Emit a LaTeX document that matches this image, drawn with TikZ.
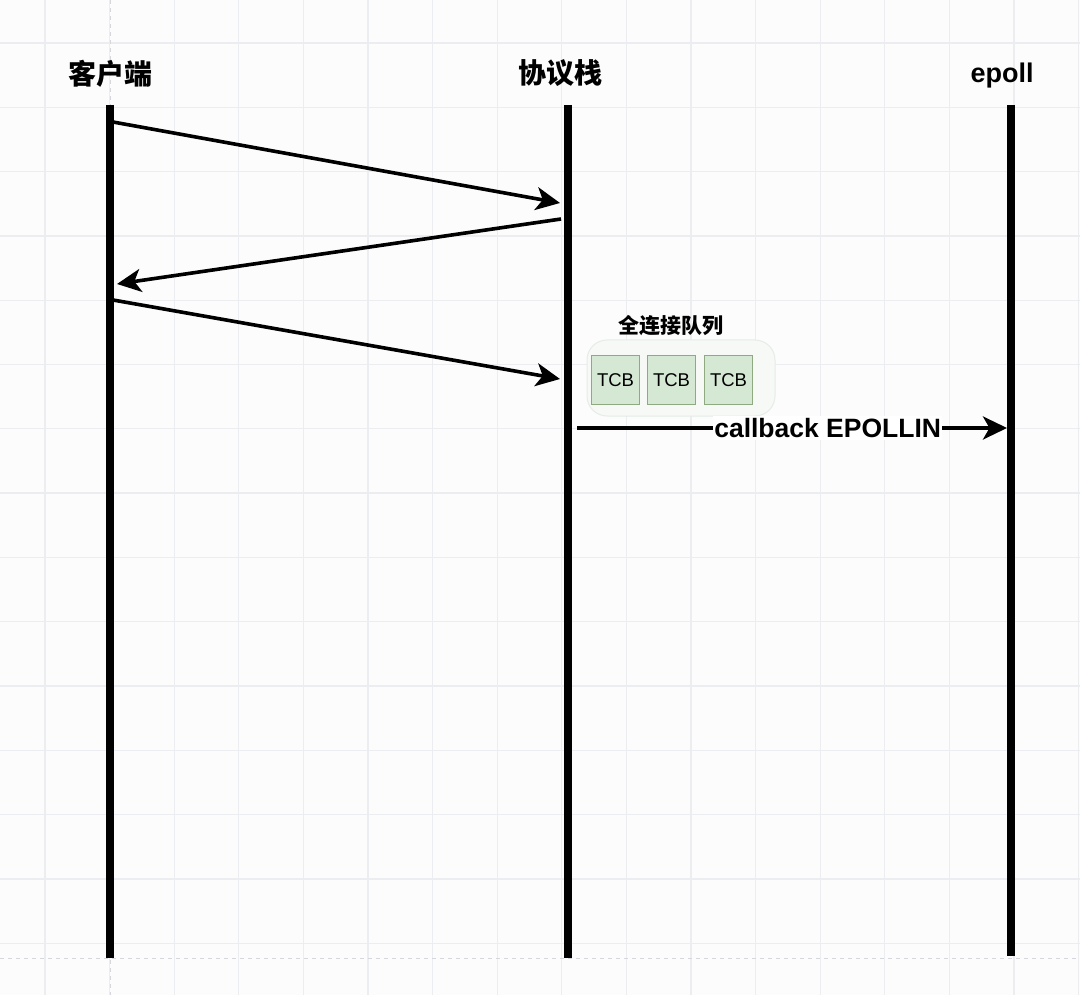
\documentclass[tikz,border=0pt]{standalone}
\usepackage{fontspec}
\setmainfont{Liberation Sans}
\newfontfamily\cjk{Noto Sans CJK SC}
\usetikzlibrary{arrows.meta}
\definecolor{bgcol}{HTML}{FCFCFD}
\definecolor{gridcol}{HTML}{ECEDF1}
\definecolor{pagecol}{HTML}{D6D7DC}
\definecolor{tcbfill}{HTML}{D5E8D4}
\definecolor{tcbborder}{HTML}{8FAA80}
\definecolor{qfill}{HTML}{F6F9F6}
\definecolor{qborder}{HTML}{E6ECE6}
\begin{document}
\begin{tikzpicture}[x=1pt,y=-1pt,
  lifeline/.style={line width=8pt, black},
  msg/.style={line width=3.6pt, black, -{Stealth[length=24pt,width=23pt,inset=6.5pt]}},
  hdr/.style={font=\cjk\bfseries\fontsize{28}{32}\selectfont, inner sep=0pt},
  lathdr/.style={font=\bfseries\fontsize{27}{32}\selectfont, inner sep=0pt},
  lbl/.style={font=\bfseries\fontsize{26.5}{30}\selectfont, fill=white, inner xsep=1pt, inner ysep=2pt},
  qlabel/.style={font=\cjk\bfseries\fontsize{21}{24}\selectfont, inner sep=0pt},
  queuebox/.style={draw=qborder, fill=qfill, line width=1pt, rounded corners=20pt, minimum width=188pt, minimum height=76pt, inner sep=0pt},
  tcb/.style={draw=tcbborder, fill=tcbfill, line width=1pt, minimum width=48pt, minimum height=48pt, inner sep=0pt, font=\fontsize{18.5}{22}\selectfont},
  gridline/.style={gridcol, line width=1.3pt},
  pageline/.style={pagecol, line width=0.9pt, dash pattern=on 4pt off 4pt}]

\useasboundingbox (0,0) rectangle (1080,995);
\fill[bgcol] (0,0) rectangle (1080,995);
% background grid
\foreach \i in {0,...,16} \draw[gridline] ({45+64.6*\i},0) -- ({45+64.6*\i},995);
\foreach \j in {0,...,14} \draw[gridline] (0,{43+64.3*\j}) -- (1080,{43+64.3*\j});
% page break lines
\draw[pageline] (0,958) -- (1080,958);
\draw[pageline] (110,0) -- (110,995);

% headers
\node[hdr] (hc) at (110,74) {客户端};
\node[hdr] (hp) at (560,73) {协议栈};
\node[lathdr, anchor=base] (he) at (1002,83) {epoll};

% lifelines
\coordinate (c0) at (110,105); \coordinate (c1) at (110,958);
\coordinate (p0) at (567.5,105); \coordinate (p1) at (567.5,958);
\coordinate (e0) at (1010.5,105); \coordinate (e1) at (1010.5,956);
\draw[lifeline] (c0) -- (c1);
\draw[lifeline] (p0) -- (p1);
\draw[lifeline] (e0) -- (e1);

% handshake messages
\coordinate (m1s) at (113,122); \coordinate (m1t) at (560,203);
\coordinate (m2s) at (561,219); \coordinate (m2t) at (117,284);
\coordinate (m3s) at (113,300); \coordinate (m3t) at (560,379);
\draw[msg] (m1s) -- (m1t);
\draw[msg] (m2s) -- (m2t);
\draw[msg] (m3s) -- (m3t);

% accept queue
\node[qlabel] (ql) at (671,326) {全连接队列};
\node[queuebox] (q) at (681,378) {};
\node[tcb] (t1) at (615.5,380) {TCB};
\node[tcb] (t2) at (671.5,380) {TCB};
\node[tcb] (t3) at (728.5,380) {TCB};

% callback
\coordinate (m4s) at (577,428); \coordinate (m4t) at (1007,428);
\draw[msg] (m4s) -- node[lbl, pos=0.583] (cb) {callback EPOLLIN} (m4t);
\end{tikzpicture}
\end{document}
